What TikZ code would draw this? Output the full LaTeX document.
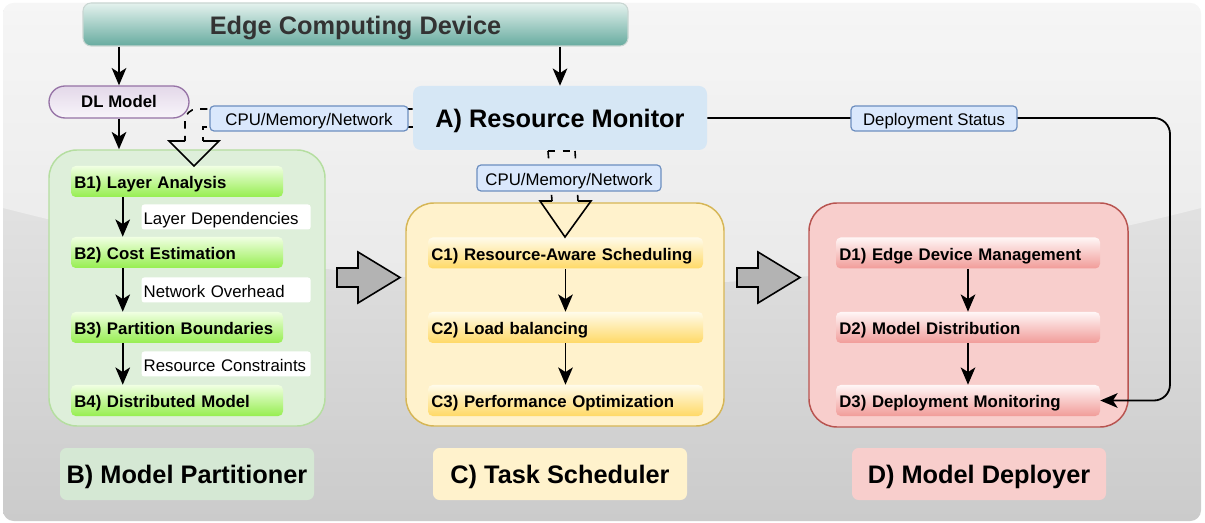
\documentclass[tikz,border=0pt]{standalone}
\usepackage{fontspec}
\setmainfont{Liberation Sans}
\usetikzlibrary{arrows.meta,calc}
\definecolor{bgtop}{HTML}{F0F0F0}
\definecolor{bgbot}{HTML}{CBCBCB}
\definecolor{edgetop}{HTML}{E4F2EE}
\definecolor{edgebot}{HTML}{67AB9F}
\definecolor{edgeline}{HTML}{C9D6D2}
\definecolor{txtgray}{HTML}{333333}
\definecolor{dltop}{HTML}{E3D8E9}
\definecolor{dlbot}{HTML}{F8F5FA}
\definecolor{dlline}{HTML}{9673A6}
\definecolor{rmfill}{HTML}{D6E7F5}
\definecolor{lblfill}{HTML}{DAE8FC}
\definecolor{lblline}{HTML}{6C8EBF}
\definecolor{bfill}{HTML}{DEEFDA}
\definecolor{bline}{HTML}{B5DEA0}
\definecolor{blabel}{HTML}{D5E8D4}
\definecolor{btop}{HTML}{F0FFE2}
\definecolor{bbot}{HTML}{96EE50}
\definecolor{cfill}{HTML}{FFF2CC}
\definecolor{cline}{HTML}{D6B656}
\definecolor{ctop}{HTML}{FFFBEA}
\definecolor{cbot}{HTML}{FFD966}
\definecolor{dfill}{HTML}{F8CECC}
\definecolor{dline}{HTML}{B85450}
\definecolor{dtop}{HTML}{FFF6F6}
\definecolor{dbot}{HTML}{F19C99}
\definecolor{blockgray}{HTML}{B3B3B3}
\begin{document}
\begin{tikzpicture}[x=0.75pt,y=-0.75pt,
  bigfont/.style={font=\bfseries\fontsize{19}{22}\selectfont, text height=16.3pt, text depth=2pt},
  itemfont/.style={font=\bfseries\fontsize{12.6}{15}\selectfont, text height=13pt, text depth=1.9pt},
  smallfont/.style={font=\fontsize{12.6}{15}\selectfont, text height=13pt, text depth=2pt},
  edgebox/.style={draw=edgeline, line width=0.8pt, rounded corners=6pt,
    top color=edgetop, bottom color=edgebot, minimum width=408.75pt,
    minimum height=32.25pt, bigfont, text=txtgray},
  dlbox/.style={draw=dlline, line width=1pt, rounded corners=12pt,
    top color=dltop, bottom color=dlbot, minimum width=105pt,
    minimum height=24pt, itemfont, text height=11pt, text depth=2pt, inner ysep=1pt},
  rmbox/.style={fill=rmfill, rounded corners=6pt, minimum width=220.5pt,
    minimum height=48pt, bigfont},
  cont/.style={rounded corners=21pt, line width=1.1pt},
  item/.style={rounded corners=3.5pt, minimum height=23.25pt, inner xsep=2.5pt,
    inner ysep=1pt, itemfont, align=left},
  bitem/.style={item, top color=btop, bottom color=bbot, text width=154pt},
  citem/.style={item, top color=ctop, bottom color=cbot, text width=201.25pt},
  ditem/.style={item, top color=dtop, bottom color=dbot, text width=193pt},
  biglabel/.style={rounded corners=5pt, minimum width=190.5pt, minimum height=39pt, bigfont},
  elabel/.style={fill=white, rounded corners=2pt, minimum height=18.75pt,
    inner xsep=1.5pt, inner ysep=1pt, text width=123.75pt, align=left, smallfont},
  info/.style={fill=lblfill, draw=lblline, line width=0.9pt, rounded corners=3pt,
    minimum height=18.75pt, inner ysep=1pt, smallfont},
  arr/.style={line width=1.35pt, -{Stealth[length=13pt,width=11pt,inset=3.5pt]}},
  flex/.style={line width=1.2pt, dash pattern=on 5.5pt off 5.5pt},
  blockarr/.style={fill=blockgray, draw=black, line width=1.2pt, line join=miter}
]
\useasboundingbox (0,0) rectangle (1205,523);
% background
\shade[top color=bgtop, bottom color=bgbot, rounded corners=8pt] (3,3) rectangle (1201,521);
\begin{scope}
  \clip[rounded corners=8pt] (3,3) rectangle (1201,521);
  \fill[white, opacity=0.4] (3,3) -- (1201,3) -- (1201,208)
    .. controls (801,311) and (402,311) .. (3,208) -- cycle;
\end{scope}

% top device
\node[edgebox] (Edge) at (355.5,24.5) {Edge Computing Device};

% containers
\node[cont, fill=bfill, draw=bline, minimum width=207pt, minimum height=207pt] (Bc) at (187,288) {};
\node[cont, fill=cfill, draw=cline, minimum width=238.5pt, minimum height=167.25pt] (Cc) at (565,314.5) {};
\node[cont, fill=dfill, draw=dline, minimum width=239.25pt, minimum height=168pt] (Dc) at (968.5,315) {};

% items
\node[bitem] (B1) at (177,181.5) {B1) Layer Analysis};
\node[bitem] (B2) at (177,252.5) {B2) Cost Estimation};
\node[bitem] (B3) at (177,327.5) {B3) Partition Boundaries};
\node[bitem] (B4) at (177,400.5) {B4) Distributed Model};

\node[citem] (C1) at (565.5,253) {C1) Resource-Aware Scheduling};
\node[citem] (C2) at (565.5,327.5) {C2) Load balancing};
\node[citem] (C3) at (565.5,400.5) {C3) Performance Optimization};

\node[ditem] (D1) at (968,253) {D1) Edge Device Management};
\node[ditem] (D2) at (968,327.5) {D2) Model Distribution};
\node[ditem] (D3) at (968,400.5) {D3) Deployment Monitoring};

% arrows inside containers
\draw[arr] ([xshift=39pt]B1.south west) -- ([xshift=39pt]B2.north west)
  node[midway, anchor=west, xshift=13.5pt, elabel] (L1) {Layer Dependencies};
\draw[arr] ([xshift=39pt]B2.south west) -- ([xshift=39pt]B3.north west)
  node[midway, anchor=west, xshift=13.5pt, elabel] (L2) {Network Overhead};
\draw[arr] ([xshift=39pt]B3.south west) -- ([xshift=39pt]B4.north west)
  node[midway, anchor=west, xshift=13.5pt, elabel] (L3) {Resource Constraints};
\draw[arr] (C1.south) -- (C2.north);
\draw[arr] (C2.south) -- (C3.north);
\draw[arr] (D1.south) -- (D2.north);
\draw[arr] (D2.south) -- (D3.north);

% block arrows between containers
\draw[blockarr] (337,268) -- (358,268) -- (358,252) -- (400,277.5) -- (358,303) -- (358,287) -- (337,287) -- cycle;
\draw[blockarr] (737,268) -- (758,268) -- (758,252) -- (800,277.5) -- (758,303) -- (758,287) -- (737,287) -- cycle;

% resource monitor and DL model
\node[rmbox] (RM) at (560,118) {A) Resource Monitor};
\node[dlbox] (DL) at (119,102) {DL Model};

% flex arrow RM -> B
\draw[flex, rounded corners=9pt] (RM.west |- 0,109) -| (185,141);
\draw[flex] (RM.west |- 0,127) -| (203,141);
\draw[line width=1.2pt, line join=miter] (185,141) -- (169,141) -- (194,166) -- (219,141) -- (203,141);
% flex arrow RM -> C
\draw[flex] (548,151) -- (575,151);
\draw[flex] (548,151) -- (552,201);
\draw[flex] (575,151) -- (578,201);
\draw[line width=1.2pt, line join=miter] (552,201) -- (540,201) -- (565,237) -- (591,201) -- (578,201);

% top arrows
\draw[arr] (Edge.south -| DL.north) -- (DL.north);
\draw[arr] (Edge.south -| RM.north) -- (RM.north);
\draw[arr] (DL.south) -- (DL.south |- Bc.north);

% deployment status connector
\coordinate (dsturn) at (1170,400.5);
\draw[arr, rounded corners=12pt] (RM.east) -| (dsturn) -- (D3.east);

% info labels
\node[info, minimum width=148.5pt] (I1) at (309,118.5) {CPU/Memory/Network};
\node[info, minimum width=138pt, minimum height=19.5pt] (I2) at (569,178) {CPU/Memory/Network};
\node[info, minimum width=124.5pt] (I3) at (934,118.5) {Deployment Status};

% bottom titles
\node[biglabel, fill=blabel] (Bt) at (187,474) {B) Model Partitioner};
\node[biglabel, fill=cfill] (Ct) at (560,474) {C) Task Scheduler};
\node[biglabel, fill=dfill] (Dt) at (979,474) {D) Model Deployer};
\end{tikzpicture}
\end{document}
